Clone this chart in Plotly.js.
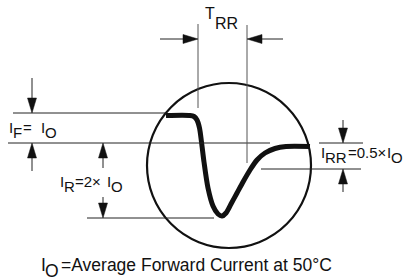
<!DOCTYPE html>
<html>
<head>
<meta charset="utf-8">
<script src="https://cdn.plot.ly/plotly-3.0.1.min.js"></script>
<style>html,body{margin:0;padding:0;background:#fff;}#chart{width:420px;height:280px;}</style>
</head>
<body>
<div id="chart"></div>
<script>
// Reverse-recovery current waveform (time units, current units on a diagram scale)
const waveTime    = [166, 190, 194, 197, 199.5, 201.5, 204, 208, 213, 218, 222, 226, 231, 237, 243, 250, 257, 265, 275, 286, 310];
const waveCurrent = [115.5, 115.5, 116.5, 120, 128, 142, 162, 188, 206, 214, 216, 213, 204, 193, 182, 170, 160, 153, 148.5, 146.5, 146.5];

// Reference levels (diagram units)
const levelIF   = 113;
const levelZero = 143;
const levelIR   = 218;
const levelIRR  = 169;
const trrStart  = 198;
const trrEnd    = 247;

// Label texts
const labelTRR  = [["T", ""], ["RR", "sub"]];
const labelIF   = [["I", ""], ["F", "sub"], ["=", ""], ["I", ""], ["O", "sub"]];
const labelIR   = [["I", ""], ["R", "sub"], ["=2×", ""], ["I", ""], ["O", "sub"]];
const labelIRR  = [["I", ""], ["RR", "sub"], ["=0.5×", ""], ["I", ""], ["O", "sub"]];
const labelNote = [["I", ""], ["O", "sub"], ["=Average Forward Current at 50°C", ""]];

const FONT = "Liberation Sans, Arial, sans-serif";
const thin = "#222";
const vgrey = "#555";

const shapes = [];
function hline(y, x0, x1, c) { shapes.push({type:"line", xref:"x", yref:"y", x0:x0, x1:x1, y0:y, y1:y, line:{color:c||thin, width:1}}); }
function vline(x, y0, y1, c) { shapes.push({type:"line", xref:"x", yref:"y", x0:x, x1:x, y0:y0, y1:y1, line:{color:c||thin, width:1}}); }
function arrow(x0, y0, x1, y1) {
  const L = 15, W = 4.5;
  const dx = x1 - x0, dy = y1 - y0, len = Math.hypot(dx, dy);
  const ux = dx / len, uy = dy / len;
  const bx = x1 - ux * L, by = y1 - uy * L;
  shapes.push({type:"line", xref:"x", yref:"y", x0:x0, y0:y0, x1:bx, y1:by, line:{color:thin, width:1}});
  const p = `M ${x1} ${y1} L ${bx - uy * W} ${by + ux * W} L ${bx + uy * W} ${by - ux * W} Z`;
  shapes.push({type:"path", xref:"x", yref:"y", path:p, fillcolor:"#111", line:{color:"#111", width:0.5}});
}

// circle
shapes.push({type:"circle", xref:"x", yref:"y", x0:147, x1:311, y0:83, y1:248, line:{color:"#111", width:2.2}});

// reference lines
hline(levelIF, 13, 166);
hline(levelZero, 8, 270);
hline(levelZero, 319, 363);
hline(levelIR, 87, 214);
hline(levelIRR, 261, 361);
vline(trrStart, 24, 108, vgrey);
vline(trrEnd, 25, 163, vgrey);

// arrows
arrow(160, 39, trrStart, 39);
arrow(283, 39, trrEnd, 39);
arrow(32, 78, 32, levelIF);
arrow(32, 171, 32, levelZero);
arrow(103, 168, 103, levelZero);
arrow(103, 197, 103, levelIR);
arrow(343, 120, 343, levelZero);
arrow(343, 192, 343, levelIRR);

const annotations = [];
function label(parts, xs, y, size, subShift) {
  parts.forEach((p, i) => {
    annotations.push({x: xs[i], y: p[1] === "sub" ? y + subShift : y, xref:"x", yref:"y",
      text: p[0], showarrow:false, xanchor:"left", yanchor:"middle", borderpad:0,
      font:{family:FONT, size:size, color:"#111"}});
  });
}
label(labelTRR, [204, 214], 13, 16, 10);
label(labelIF,  [8, 12, 22, 40, 44], 127, 15, 5);
label(labelIR,  [58.5, 62.5, 74, 106, 110], 181, 15, 5);
label(labelIRR, [320, 324, 346.5, 386, 390], 152, 15, 5);
label(labelNote,[40, 44, 60], 265, 17.5, 6);

const data = [{
  x: waveTime, y: waveCurrent, type:"scatter", mode:"lines",
  line:{color:"#111", width:5, shape:"spline", smoothing:0.8},
  hoverinfo:"skip", showlegend:false
}];

const layout = {
  width:420, height:280, margin:{l:0, r:0, t:0, b:0},
  paper_bgcolor:"#fff", plot_bgcolor:"#fff",
  xaxis:{range:[0, 420], visible:false, fixedrange:true},
  yaxis:{range:[280, 0], visible:false, fixedrange:true},
  shapes:shapes, annotations:annotations, showlegend:false
};
Plotly.newPlot("chart", data, layout, {displayModeBar:false, staticPlot:true});
</script>
</body>
</html>
